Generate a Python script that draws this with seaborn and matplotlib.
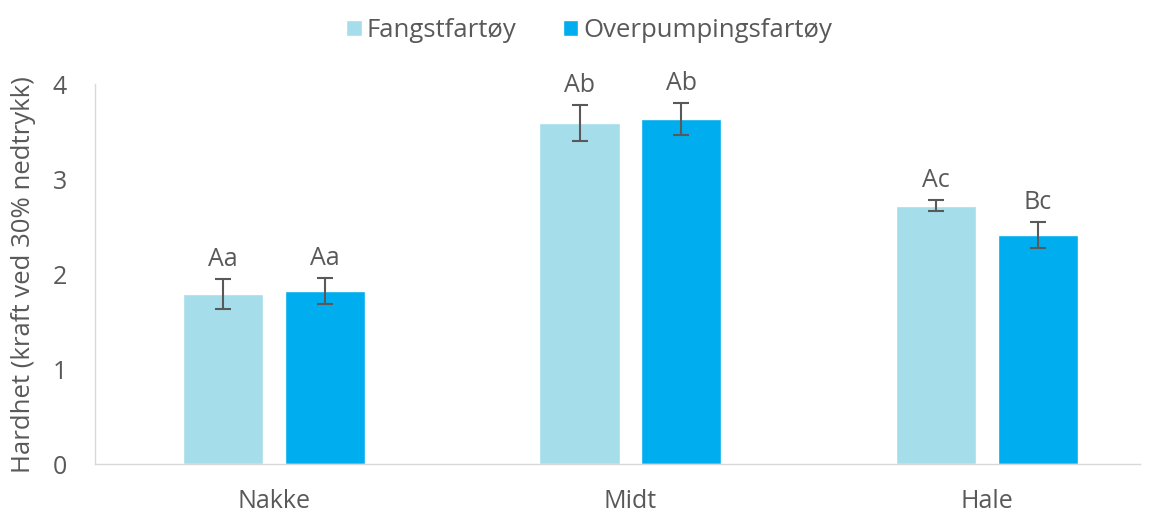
import numpy as np
import pandas as pd
import matplotlib
matplotlib.use("Agg")
import matplotlib.pyplot as plt
import seaborn as sns

# data
regions = ["Nakke", "Midt", "Hale"]
groups = ["Fangstfartøy", "Overpumpingsfartøy"]
fangst = [1.79, 3.59, 2.72]
overpump = [1.82, 3.63, 2.41]
fangst_err = [0.16, 0.19, 0.06]
overpump_err = [0.14, 0.17, 0.14]
fangst_lbl = ["Aa", "Ab", "Ac"]
overpump_lbl = ["Aa", "Ab", "Bc"]

df = pd.DataFrame({
    "region": regions * 2,
    "gruppe": [groups[0]] * 3 + [groups[1]] * 3,
    "verdi": fangst + overpump,
})
errs = fangst_err + overpump_err
lbls = fangst_lbl + overpump_lbl

sns.set_style("white")
plt.rcParams['font.family'] = ['Open Sans', 'DejaVu Sans']
txt = "#595959"

fig = plt.figure(figsize=(11.53, 5.13), dpi=100)
ax = fig.add_axes([0.0824, 0.0955, 0.9066, 0.7405])

sns.barplot(data=df, x="region", y="verdi", hue="gruppe",
            palette=["#A5DEEA", "#00AEEF"], saturation=1, width=0.572, gap=0.215,
            errorbar=None, ax=ax, legend=True)

# error bars + letters over each bar (patches come in hue order)
bars = [p for p in ax.patches if p.get_height() > 0][:6]
for p, e, l in zip(bars, errs, lbls):
    xc = p.get_x() + p.get_width() / 2
    h = p.get_height()
    ax.errorbar(xc, h, yerr=e, color=txt, capsize=6, elinewidth=1.5,
                capthick=1.5, fmt="none")
    ax.annotate(l, (xc, h + e), xytext=(0, 5), textcoords="offset points",
                ha="center", va="bottom", fontsize=18, color=txt)

ax.set_ylim(0, 4)
ax.set_xlim(-0.502, 2.43)
ax.set_yticks([0, 1, 2, 3, 4])
ax.set_xlabel("")
ax.set_ylabel("Hardhet (kraft ved 30% nedtrykk)", fontsize=18.5, color=txt,
              labelpad=12)
ax.tick_params(axis="both", labelsize=18, colors=txt, length=0)
ax.tick_params(axis="y", pad=20)
ax.tick_params(axis="x", pad=18)
for s in ["top", "right"]:
    ax.spines[s].set_visible(False)
for s in ["left", "bottom"]:
    ax.spines[s].set_color("#D9D9D9")
    ax.spines[s].set_linewidth(1)

handles, labels = ax.get_legend_handles_labels()
ax.legend(handles, labels, loc="upper center", ncol=2, frameon=False,
          fontsize=18.5, handlelength=0.6, handleheight=0.6,
          handletextpad=0.2, columnspacing=1.8, labelcolor=txt)
leg = ax.get_legend()
leg.set_bbox_to_anchor((0.511, 1.01), transform=fig.transFigure)

fig.savefig("out.png", dpi=100)
